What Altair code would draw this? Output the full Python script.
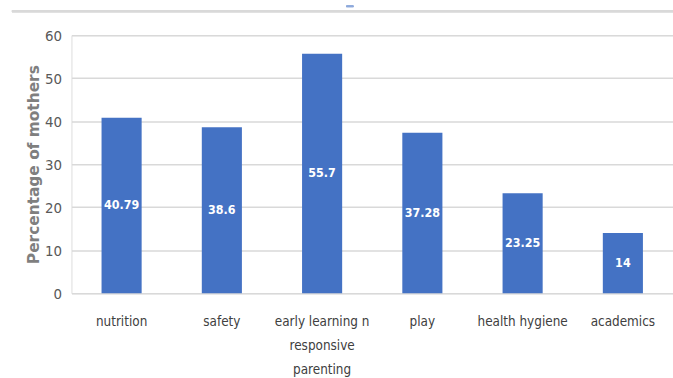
import altair as alt
import pandas as pd

categories = ["nutrition", "safety", "early learning n responsive parenting",
              "play", "health hygiene", "academics"]
values = [40.79, 38.6, 55.7, 37.28, 23.25, 14]
value_labels = ["40.79", "38.6", "55.7", "37.28", "23.25", "14"]
y_ticks = [0, 10, 20, 30, 40, 50, 60]

df = pd.DataFrame({"topic": categories, "pct": values, "label": value_labels})
df["mid"] = df["pct"] / 2

FONT = "DejaVu Sans Condensed"
BLUE = "#4472C4"

x_enc = alt.X(
    "topic:N", sort=categories, title=None,
    scale=alt.Scale(paddingInner=0.6, paddingOuter=0.3),
    axis=alt.Axis(
        labelAngle=0, labelFont=FONT, labelFontSize=13.5, labelColor="#404040",
        labelPadding=22, labelLineHeight=24, domain=False, ticks=False,
        labelExpr="datum.label == 'early learning n responsive parenting' ? "
                  "['early learning n', 'responsive', 'parenting'] : datum.label",
    ),
)

bars = alt.Chart(df).mark_bar(color=BLUE).encode(
    x=x_enc,
    y=alt.Y(
        "pct:Q", title="Percentage of mothers",
        scale=alt.Scale(domain=[0, 60], nice=False),
        axis=alt.Axis(
            values=y_ticks, labelFont=FONT, labelFontSize=15, labelColor="#595959",
            labelPadding=10, domain=False, ticks=False,
            gridColor="#d9d9d9", gridWidth=1.5,
            titleFont="DejaVu Sans", titleFontSize=15.5, titleFontWeight="bold",
            titleColor="#7f7f7f", titlePadding=3,
        ),
    ),
)

text = alt.Chart(df).mark_text(
    color="white", font=FONT, fontSize=12.5, fontWeight="bold"
).encode(x=alt.X("topic:N", sort=categories), y="mid:Q", text="label:N")

frame_line = alt.Chart(df).mark_rule(color="#d9d9d9", strokeWidth=2).encode(
    x=alt.value(-60), x2=alt.value(610), y=alt.value(-24)
)
dash = alt.Chart(df).mark_rule(color="#8ea9db", strokeWidth=1.5).encode(
    x=alt.value(277), x2=alt.value(284), y=alt.value(-29)
)

chart = alt.layer(bars, text, frame_line, dash).properties(
    width=606, height=260,
    autosize=alt.AutoSizeParams(type="none"),
    padding={"left": 72, "top": 34, "right": 0, "bottom": 84},
).configure_view(stroke=None).configure(background="white")

chart.save("out.html", embed_options={"renderer": "svg", "actions": False})
